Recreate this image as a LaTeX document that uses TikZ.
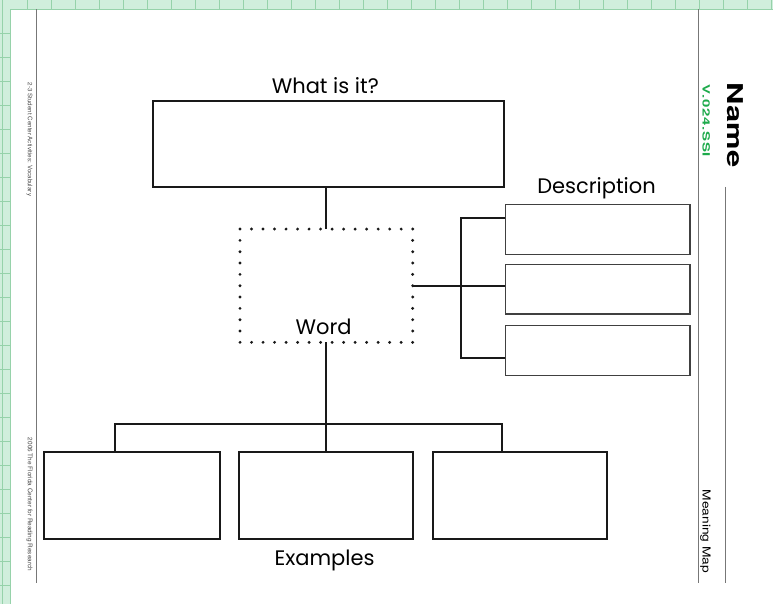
\documentclass[tikz,border=0pt]{standalone}
\usepackage{fontspec}
\usetikzlibrary{calc}
\newfontfamily\labfont{Poppins}
\newfontfamily\hvfont{TeX Gyre Heros}
\definecolor{gridfill}{HTML}{D0EEDC}
\definecolor{gridline}{HTML}{96D2AA}
\definecolor{codegreen}{HTML}{1DAA4B}
\definecolor{margray}{HTML}{777777}
\begin{document}
\begin{tikzpicture}[x=1pt,y=-1pt,
  mainbox/.style={draw=black!90,line width=2pt,inner sep=0pt,outer sep=0pt},
  descbox/.style={draw=black!75,line width=1.3pt,inner sep=0pt,outer sep=0pt},
  conn/.style={draw=black!90,line width=2pt},
  lab/.style={font=\labfont\fontsize{21}{21}\selectfont,anchor=base,inner sep=0pt},
  marg/.style={draw=margray,line width=1.3pt},
  dotmark/.style={fill=black!90}]
\useasboundingbox (0,0) rectangle (773,604);
\fill[white] (0,0) rectangle (773,604);
% green grid strips
\fill[gridfill] (0,0) rectangle (773,9.3);
\fill[gridfill] (0,0) rectangle (10,604);
\draw[gridline,line width=1pt] (10,9.3) -- (773,9.3);
\draw[gridline,line width=1pt] (10,9.3) -- (10,604);
\draw[gridline,line width=0.8pt] (2.7,0) -- (2.7,604);
\foreach \i in {0,...,31} {\draw[gridline,line width=0.8pt] (27.7+24*\i,0) -- (27.7+24*\i,9.3);}
\foreach \j in {1,...,25} {\draw[gridline,line width=0.8pt] (0,9.3+24*\j) -- (10,9.3+24*\j);}
% margin lines
\draw[marg] (36.7,9.3) -- (36.7,583);
\draw[marg] (698.5,9.3) -- (698.5,583);
\draw[marg] (725.7,187) -- (725.7,583);
% margin texts
\node[rotate=-90,inner sep=0pt,text=black!70,font=\hvfont\fontsize{6.2}{6.2}\selectfont] (m1) at (29.5,139.5) {2-3 Student Center Activities: Vocabulary};
\node[rotate=-90,inner sep=0pt,text=black!70,font=\hvfont\fontsize{6.4}{6.4}\selectfont] (m2) at (29.5,504.5) {2006 The Florida Center for Reading Research};
\node[rotate=-90,inner sep=0pt,font=\hvfont\bfseries\fontsize{21.8}{21.8}\selectfont] (name) at (735.5,125) {\scalebox{1.42}[1]{Name}};
\node[rotate=-90,inner sep=0pt,text=codegreen,font=\hvfont\bfseries\fontsize{10}{10}\selectfont] (code) at (706.3,120.8) {\scalebox{1.5}[1]{\addfontfeature{LetterSpace=5}V.024.SSI}};
\node[rotate=-90,inner sep=0pt,font=\hvfont\fontsize{11}{11}\selectfont] (mm) at (705.5,531.5) {\scalebox{1.25}[1]{Meaning Map}};
% boxes
\node[mainbox,minimum width=351.5pt,minimum height=86pt] (top) at (328.25,143.7) {};
\node[inner sep=0pt,outer sep=0pt,minimum width=172.7pt,minimum height=113.3pt] (word) at (326.35,285.7) {};
\node[descbox,minimum width=184.7pt,minimum height=50pt] (d1) at (597.65,229.3) {};
\node[descbox,minimum width=184.7pt,minimum height=49.7pt] (d2) at (597.65,289.15) {};
\node[descbox,minimum width=184.7pt,minimum height=50pt] (d3) at (597.65,350.7) {};
\node[mainbox,minimum width=175.4pt,minimum height=87pt] (e1) at (132,495.8) {};
\node[mainbox,minimum width=174.5pt,minimum height=87pt] (e2) at (326,495.8) {};
\node[mainbox,minimum width=174.5pt,minimum height=87pt] (e3) at (520,495.8) {};
% dotted border of word box
\foreach \k in {0,...,15} {
  \fill[dotmark] ($(word.north west)+(11.513*\k,0)$) circle (1.6);
  \fill[dotmark] ($(word.south west)+(11.513*\k,0)$) circle (1.6);
}
\foreach \k in {1,...,9} {
  \fill[dotmark] ($(word.north west)+(0,11.33*\k)$) circle (1.6);
  \fill[dotmark] ($(word.north east)+(0,11.33*\k)$) circle (1.6);
}
% labels
\node[lab] (lwhat) at (325.3,93.3) {What is it?};
\node[lab] (lword) at (323.7,334.3) {Word};
\node[lab] (ldesc) at (596.5,193.5) {Description};
\node[lab] (lex) at (324.5,565) {Examples};
% connectors
\coordinate (bt) at (460.7,217.7);
\coordinate (bb) at (460.7,357.7);
\coordinate (jl) at (115.3,424.3);
\coordinate (jr) at (502,424.3);
\draw[conn] (top.south -| word.north) -- (word.north);
\draw[conn] (word.east) -- (word.east -| d2.west);
\draw[conn] (bt -| d1.west) -- (bt) -- (bb) -- (bb -| d3.west);
\draw[conn] (word.south) -- (word.south |- e2.north);
\draw[conn] (jl |- e1.north) -- (jl) -- (jr) -- (jr |- e3.north);
\end{tikzpicture}
\end{document}
